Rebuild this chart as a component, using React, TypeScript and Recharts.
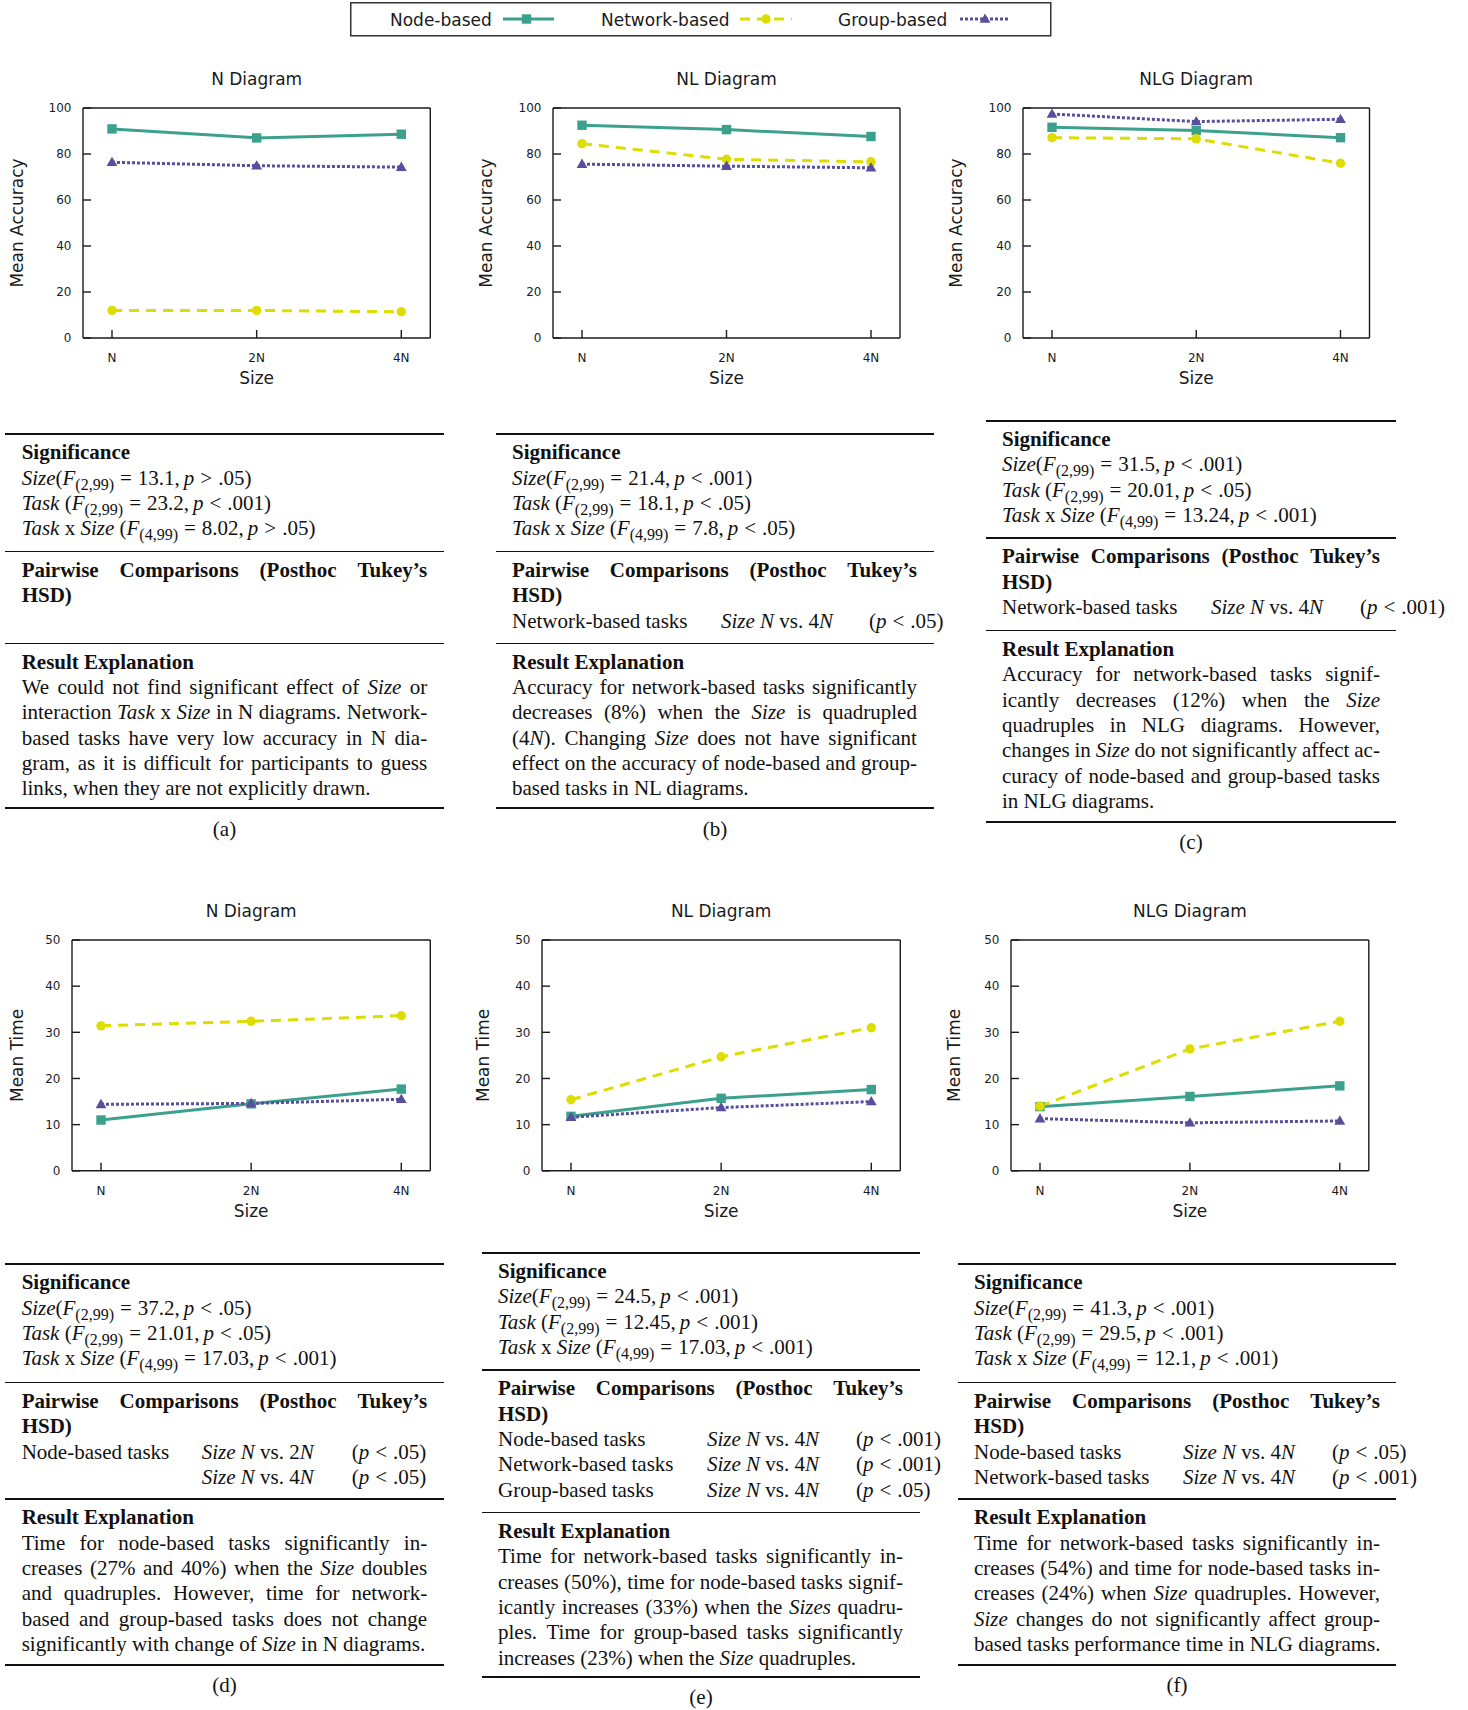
import React from "react";
import { LineChart, Line, XAxis, YAxis } from "recharts";

const SIZES = ["N", "2N", "4N"];

// mean accuracy (%)
const ACC_N_NODE = [90.9, 87.0, 88.6];
const ACC_N_NETWORK = [12.0, 12.0, 11.4];
const ACC_N_GROUP = [76.4, 74.9, 74.3];
const ACC_NL_NODE = [92.5, 90.6, 87.6];
const ACC_NL_NETWORK = [84.5, 77.7, 76.6];
const ACC_NL_GROUP = [75.6, 74.7, 74.0];
const ACC_NLG_NODE = [91.6, 90.2, 87.1];
const ACC_NLG_NETWORK = [87.1, 86.6, 76.0];
const ACC_NLG_GROUP = [97.4, 94.1, 95.1];

// mean time, bottom row
const TIME_N_NODE = [11.0, 14.5, 17.7];
const TIME_N_NETWORK = [31.4, 32.4, 33.6];
const TIME_N_GROUP = [14.4, 14.6, 15.5];
const TIME_NL_NODE = [11.8, 15.7, 17.6];
const TIME_NL_NETWORK = [15.4, 24.7, 31.0];
const TIME_NL_GROUP = [11.6, 13.7, 15.0];
const TIME_NLG_NODE = [13.9, 16.1, 18.4];
const TIME_NLG_NETWORK = [14.0, 26.4, 32.4];
const TIME_NLG_GROUP = [11.3, 10.4, 10.8];

const ACC_TICKS = [0, 20, 40, 60, 80, 100];
const TIME_TICKS = [0, 10, 20, 30, 40, 50];

// significance rows: [F value, relation, p]
const SIG_A = [["13.1", ">", ".05"], ["23.2", "<", ".001"], ["8.02", ">", ".05"]];
const SIG_B = [["21.4", "<", ".001"], ["18.1", "<", ".05"], ["7.8", "<", ".05"]];
const SIG_C = [["31.5", "<", ".001"], ["20.01", "<", ".05"], ["13.24", "<", ".001"]];
const SIG_D = [["37.2", "<", ".05"], ["21.01", "<", ".05"], ["17.03", "<", ".001"]];
const SIG_E = [["24.5", "<", ".001"], ["12.45", "<", ".001"], ["17.03", "<", ".001"]];
const SIG_F = [["41.3", "<", ".001"], ["29.5", "<", ".001"], ["12.1", "<", ".001"]];

// pairwise rows: [task, compared size multiple, p]
const PAIRS_A: string[][] = [];
const PAIRS_B = [["Network-based tasks", "4", ".05"]];
const PAIRS_C = [["Network-based tasks", "4", ".001"]];
const PAIRS_D = [["Node-based tasks", "2", ".05"], ["", "4", ".05"]];
const PAIRS_E = [
  ["Node-based tasks", "4", ".001"],
  ["Network-based tasks", "4", ".001"],
  ["Group-based tasks", "4", ".05"],
];
const PAIRS_F = [["Node-based tasks", "4", ".05"], ["Network-based tasks", "4", ".001"]];

const RESULT_A = [
  "We could not find significant effect of _Size_ or",
  "interaction _Task_ x _Size_ in N diagrams. Network-",
  "based tasks have very low accuracy in N dia-",
  "gram, as it is difficult for participants to guess",
  "links, when they are not explicitly drawn.",
];
const RESULT_B = [
  "Accuracy for network-based tasks significantly",
  "decreases (8%) when the _Size_ is quadrupled",
  "(4_N_). Changing _Size_ does not have significant",
  "effect on the accuracy of node-based and group-",
  "based tasks in NL diagrams.",
];
const RESULT_C = [
  "Accuracy for network-based tasks signif-",
  "icantly decreases (12%) when the _Size_",
  "quadruples in NLG diagrams. However,",
  "changes in _Size_ do not significantly affect ac-",
  "curacy of node-based and group-based tasks",
  "in NLG diagrams.",
];
const RESULT_D = [
  "Time for node-based tasks significantly in-",
  "creases (27% and 40%) when the _Size_ doubles",
  "and quadruples. However, time for network-",
  "based and group-based tasks does not change",
  "significantly with change of _Size_ in N diagrams.",
];
const RESULT_E = [
  "Time for network-based tasks significantly in-",
  "creases (50%), time for node-based tasks signif-",
  "icantly increases (33%) when the _Sizes_ quadru-",
  "ples. Time for group-based tasks significantly",
  "increases (23%) when the _Size_ quadruples.",
];
const RESULT_F = [
  "Time for network-based tasks significantly in-",
  "creases (54%) and time for node-based tasks in-",
  "creases (24%) when _Size_ quadruples. However,",
  "_Size_ changes do not significantly affect group-",
  "based tasks performance time in NLG diagrams.",
];

const NODE_COLOR = "#3ba18d";
const NET_COLOR = "#dddd00";
const GROUP_COLOR = "#574f9d";
const INK = "#1a1a1a";

const drawSquare = (cx: number, cy: number, key?: any) => (
  <rect key={key} x={cx - 4.7} y={cy - 4.7} width={9.4} height={9.4} fill={NODE_COLOR} />
);
const drawCircle = (cx: number, cy: number, key?: any) => (
  <circle key={key} cx={cx} cy={cy} r={4.7} fill={NET_COLOR} />
);
const drawTriangle = (cx: number, cy: number, key?: any) => (
  <polygon
    key={key}
    points={`${cx},${cy - 5.6} ${cx + 5.4},${cy + 3.8} ${cx - 5.4},${cy + 3.8}`}
    fill={GROUP_COLOR}
  />
);

const SERIES = [
  { key: "node", name: "Node-based", color: NODE_COLOR, dash: undefined, marker: drawSquare },
  { key: "network", name: "Network-based", color: NET_COLOR, dash: "10 7", marker: drawCircle },
  { key: "group", name: "Group-based", color: GROUP_COLOR, dash: "3 2", marker: drawTriangle },
];

function buildRows(node: number[], network: number[], group: number[]) {
  return SIZES.map((size, i) => ({ size, node: node[i], network: network[i], group: group[i] }));
}

interface PanelProps {
  title: string;
  yLabel: string;
  left: number;
  top: number;
  width: number;
  height: number;
  ticks: number[];
  rows: any[];
  yLabelX: number;
}

function Panel({ title, yLabel, left, top, width, height, ticks, rows, yLabelX }: PanelProps) {
  const frame = { stroke: INK, strokeWidth: 1.4 };
  const yMax = ticks[ticks.length - 1];
  const pad = { left: 29, right: 29 };
  return (
    <div style={{ position: "absolute", left: left - 90, top: top - 45 }}>
      <LineChart
        width={width + 101}
        height={height + 100}
        data={rows}
        margin={{ top: 44, right: 10, bottom: 0, left: 0 }}
        style={{ fontFamily: "DejaVu Sans" }}
      >
        <XAxis
          dataKey="size"
          height={55}
          interval={0}
          padding={pad}
          tickSize={-8}
          tickMargin={23.6}
          tick={{ fill: INK, fontSize: 12 }}
          axisLine={frame}
          tickLine={frame}
          label={{ value: "Size", position: "insideBottom", offset: 9, fill: INK, fontSize: 17 }}
        />
        <XAxis
          xAxisId="top"
          orientation="top"
          dataKey="size"
          height={1}
          interval={0}
          padding={pad}
          tick={false}
          tickSize={-8}
          axisLine={frame}
          tickLine={frame}
          label={{ value: title, position: "top", offset: 21.8, fill: INK, fontSize: 17 }}
        />
        <YAxis
          domain={[0, yMax]}
          ticks={ticks}
          width={90}
          interval={0}
          tickSize={-8}
          tickMargin={19.5}
          tick={{ fill: INK, fontSize: 12 }}
          axisLine={frame}
          tickLine={frame}
          label={{
            value: yLabel,
            angle: -90,
            position: "insideLeft",
            offset: 90 + yLabelX,
            fill: INK,
            fontSize: 17,
            style: { textAnchor: "middle" },
          }}
        />
        <YAxis
          yAxisId="right"
          orientation="right"
          domain={[0, yMax]}
          ticks={ticks}
          width={1}
          interval={0}
          tick={false}
          tickSize={-8}
          axisLine={frame}
          tickLine={frame}
        />
        {SERIES.map((s) => (
          <Line
            key={s.key}
            type="linear"
            dataKey={s.key}
            stroke={s.color}
            strokeWidth={3}
            strokeDasharray={s.dash}
            dot={(p: any) => s.marker(p.cx, p.cy, p.index)}
            activeDot={false}
            isAnimationActive={false}
          />
        ))}
      </LineChart>
    </div>
  );
}

const LEGEND_POS = [
  { text: 40, from: 153, to: 204, mark: 176.5 },
  { text: 251, from: 390, to: 442, mark: 416 },
  { text: 488, from: 610, to: 658, mark: 635 },
];

function LegendBox() {
  return (
    <svg style={{ position: "absolute", left: 350, top: 2 }} width={702} height={35}>
      <rect x={0.75} y={0.75} width={700} height={33} fill="#fff" stroke="#333" strokeWidth={1.5} />
      {SERIES.map((s, i) => {
        const p = LEGEND_POS[i];
        return (
          <g key={s.key}>
            <text x={p.text} y={23.5} fontFamily="DejaVu Sans" fontSize={17} fill={INK}>
              {s.name}
            </text>
            <line x1={p.from} x2={p.to} y1={17} y2={17} stroke={s.color} strokeWidth={3} strokeDasharray={s.dash} />
            {s.marker(p.mark, 17)}
          </g>
        );
      })}
    </svg>
  );
}

const LH = 25.4;

const fmt = (s: string) =>
  s.split(/(_[^_]+_)/).map((part, i) =>
    part.length > 1 && part.startsWith("_") && part.endsWith("_") ? (
      <i key={i}>{part.slice(1, -1)}</i>
    ) : (
      <React.Fragment key={i}>{part}</React.Fragment>
    )
  );

function TextRow({ text, justify, bold }: { text: string; justify?: boolean; bold?: boolean }) {
  const base: React.CSSProperties = { height: LH, whiteSpace: "nowrap", fontWeight: bold ? "bold" : "normal" };
  if (!justify) return <div style={base}>{fmt(text)}</div>;
  const words = text.split(" ").filter(Boolean);
  return (
    <div style={{ ...base, display: "flex", justifyContent: "space-between", columnGap: 3 }}>
      {words.map((w, i) => (
        <span key={i}>{fmt(w)}</span>
      ))}
    </div>
  );
}

const SIG_LABELS = [
  <><i>Size</i>(</>,
  <><i>Task</i> (</>,
  <><i>Task</i> x <i>Size</i> (</>,
];
const SIG_DF = ["(2,99)", "(2,99)", "(4,99)"];

// math relation with TeX-like thick spacing
const Rel = ({ sym }: { sym: string }) => <span style={{ padding: "0 6px" }}>{sym}</span>;

function SigRow({ idx, row }: { idx: number; row: string[] }) {
  return (
    <div style={{ height: LH, whiteSpace: "nowrap" }}>
      {SIG_LABELS[idx]}
      <i>F</i>
      <span style={{ fontSize: 16, position: "relative", top: 5 }}>{SIG_DF[idx]}</span>
      <Rel sym="=" />
      {row[0]},<span style={{ paddingLeft: 4 }} />
      <i>p</i>
      <Rel sym={row[1]} />
      {row[2]})
    </div>
  );
}

interface TableSpec {
  x: number;
  w: number;
  tx: number;
  tw: number;
  rules: number[];
  sig: string[][];
  pairs: string[][];
  cols: number[];
  result: string[];
  caption: string;
}

function StatsTable({ spec }: { spec: TableSpec }) {
  const { x, w, tx, tw, rules, sig, pairs, cols, result, caption } = spec;
  const rule = (y: number, t: number) => (
    <div style={{ position: "absolute", left: x, top: y - t / 2, width: w, height: t, background: "#111" }} />
  );
  const block = (y: number): React.CSSProperties => ({ position: "absolute", left: tx, top: y + 6.2, width: tw });
  return (
    <>
      {rule(rules[0], 2)}
      {rule(rules[1], 1.3)}
      {rule(rules[2], 1.3)}
      {rule(rules[3], 2)}
      <div style={block(rules[0])}>
        <TextRow text="Significance" bold />
        {sig.map((r, i) => (
          <SigRow key={i} idx={i} row={r} />
        ))}
      </div>
      <div style={block(rules[1])}>
        <TextRow text="Pairwise Comparisons (Posthoc Tukey’s" bold justify />
        <TextRow text="HSD)" bold />
        {pairs.map((r, i) => (
          <div key={i} style={{ position: "relative", height: LH, whiteSpace: "nowrap" }}>
            <span style={{ position: "absolute", left: cols[0] }}>{r[0]}</span>
            <span style={{ position: "absolute", left: cols[1] }}>
              <i>Size N</i> vs. {r[1]}
              <i>N</i>
            </span>
            <span style={{ position: "absolute", left: cols[2] }}>
              (<i>p</i>
              <Rel sym="<" />
              {r[2]})
            </span>
          </div>
        ))}
      </div>
      <div style={block(rules[2])}>
        <TextRow text="Result Explanation" bold />
        {result.map((t, i) => (
          <TextRow key={i} text={t} justify={i < result.length - 1} />
        ))}
      </div>
      <div
        style={{ position: "absolute", left: x, width: w, top: rules[3] + 8.2, textAlign: "center", height: LH }}
      >
        {caption}
      </div>
    </>
  );
}

const TOP_RULES = [434, 551.7, 643.3, 808.3];
const BOTTOM_RULES = [1264, 1382.7, 1499, 1665];

const TABLES: TableSpec[] = [
  { x: 5, w: 439, tx: 21.7, tw: 405.5, rules: TOP_RULES, sig: SIG_A, pairs: PAIRS_A, cols: [0, 180, 330], result: RESULT_A, caption: "(a)" },
  { x: 496, w: 438, tx: 512, tw: 405, rules: TOP_RULES, sig: SIG_B, pairs: PAIRS_B, cols: [0, 209, 357], result: RESULT_B, caption: "(b)" },
  { x: 986, w: 410, tx: 1002, tw: 378, rules: [420.7, 538, 630.7, 821.7], sig: SIG_C, pairs: PAIRS_C, cols: [0, 209, 358], result: RESULT_C, caption: "(c)" },
  { x: 5, w: 439, tx: 21.7, tw: 405.5, rules: BOTTOM_RULES, sig: SIG_D, pairs: PAIRS_D, cols: [0, 180, 330], result: RESULT_D, caption: "(d)" },
  { x: 482, w: 438, tx: 498, tw: 405, rules: [1252.7, 1370, 1512.7, 1677], sig: SIG_E, pairs: PAIRS_E, cols: [0, 209, 358], result: RESULT_E, caption: "(e)" },
  { x: 958, w: 438, tx: 974, tw: 406, rules: BOTTOM_RULES, sig: SIG_F, pairs: PAIRS_F, cols: [0, 209, 358], result: RESULT_F, caption: "(f)" },
];

const PANELS: PanelProps[] = [
  { title: "N Diagram", yLabel: "Mean Accuracy", left: 82.7, top: 108.3, width: 347.3, height: 230, ticks: ACC_TICKS, rows: buildRows(ACC_N_NODE, ACC_N_NETWORK, ACC_N_GROUP), yLabelX: -66.5 },
  { title: "NL Diagram", yLabel: "Mean Accuracy", left: 553, top: 108.3, width: 347, height: 230, ticks: ACC_TICKS, rows: buildRows(ACC_NL_NODE, ACC_NL_NETWORK, ACC_NL_GROUP), yLabelX: -67 },
  { title: "NLG Diagram", yLabel: "Mean Accuracy", left: 1022.7, top: 108.3, width: 346.5, height: 230, ticks: ACC_TICKS, rows: buildRows(ACC_NLG_NODE, ACC_NLG_NETWORK, ACC_NLG_GROUP), yLabelX: -67 },
  { title: "N Diagram", yLabel: "Mean Time", left: 71.7, top: 939.5, width: 358.3, height: 230.8, ticks: TIME_TICKS, rows: buildRows(TIME_N_NODE, TIME_N_NETWORK, TIME_N_GROUP), yLabelX: -55 },
  { title: "NL Diagram", yLabel: "Mean Time", left: 541.5, top: 939.5, width: 358.3, height: 230.8, ticks: TIME_TICKS, rows: buildRows(TIME_NL_NODE, TIME_NL_NETWORK, TIME_NL_GROUP), yLabelX: -58.6 },
  { title: "NLG Diagram", yLabel: "Mean Time", left: 1011.2, top: 939.5, width: 357.8, height: 230.8, ticks: TIME_TICKS, rows: buildRows(TIME_NLG_NODE, TIME_NLG_NETWORK, TIME_NLG_GROUP), yLabelX: -57.3 },
];

export default function App() {
  return (
    <div
      style={{
        position: "absolute",
        left: 0,
        top: 0,
        width: 1468,
        height: 1710,
        background: "#fff",
        overflow: "hidden",
        fontFamily: "Liberation Serif",
        fontSize: 21,
        lineHeight: `${LH}px`,
        color: "#111",
      }}
    >
      <LegendBox />
      {PANELS.map((p, i) => (
        <Panel key={i} {...p} />
      ))}
      {TABLES.map((t, i) => (
        <StatsTable key={i} spec={t} />
      ))}
    </div>
  );
}
